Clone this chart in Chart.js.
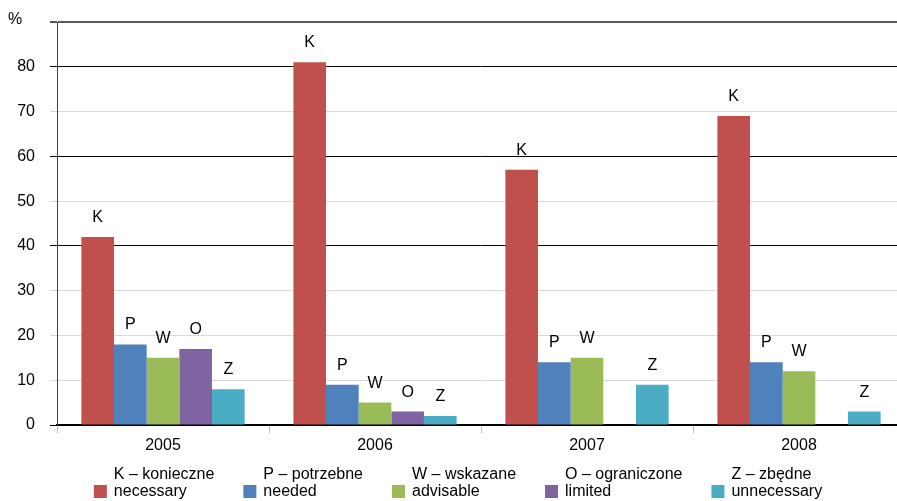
<!DOCTYPE html>
<html>
<head>
<meta charset="utf-8">
<script src="https://cdn.jsdelivr.net/npm/chart.js@4/dist/chart.umd.min.js"></script>
<style>
  html, body { margin: 0; padding: 0; background: #fff; overflow: hidden; }
  #wrap { position: relative; width: 910px; height: 501px; }
</style>
</head>
<body>
<div id="wrap"><canvas id="c"></canvas></div>
<script>
// Survey years (categories)
const years = ['2005', '2006', '2007', '2008'];

// Share of answers per category, %
const kValues = [42, 81, 57, 69];
const pValues = [18, 9, 14, 14];
const wValues = [15, 5, 15, 12];
const oValues = [17, 3, null, null];
const zValues = [8, 2, 9, 3];

// Series letters and two-line legend names (Polish / English)
const seriesLetters = ['K', 'P', 'W', 'O', 'Z'];
const seriesNamesPl = ['K – konieczne', 'P – potrzebne', 'W – wskazane', 'O – ograniczone', 'Z – zbędne'];
const seriesNamesEn = ['necessary', 'needed', 'advisable', 'limited', 'unnecessary'];
const seriesColors = ['#C0504D', '#4F81BD', '#9BBB59', '#8064A2', '#4BACC6'];

// Value axis
const yMax = 90;
const yStep = 10;
const yUnit = '%';

const FONT = '"Liberation Sans", Arial, sans-serif';
const FONT_SIZE = 16;
const seriesValues = [kValues, pValues, wValues, oValues, zValues];

const datasets = seriesValues.map((vals, i) => ({
  label: seriesNamesPl[i],
  letter: seriesLetters[i],
  subLabel: seriesNamesEn[i],
  data: vals,
  backgroundColor: seriesColors[i],
  borderWidth: 0,
  categoryPercentage: 0.77,
  barPercentage: 1.0
}));

// Letters above bars, unit label, and the two-line legend
const decorations = {
  id: 'decorations',
  afterDatasetsDraw(chart) {
    const ctx = chart.ctx;
    ctx.save();
    ctx.font = FONT_SIZE + 'px ' + FONT;
    ctx.fillStyle = '#000';
    ctx.textAlign = 'center';
    ctx.textBaseline = 'alphabetic';
    chart.data.datasets.forEach((ds, di) => {
      const meta = chart.getDatasetMeta(di);
      meta.data.forEach((bar, idx) => {
        const v = ds.data[idx];
        if (v === null || v === undefined) return;
        ctx.fillText(ds.letter, bar.x, bar.y - 15);
      });
    });
    ctx.restore();
  },
  afterDraw(chart) {
    const ctx = chart.ctx;
    ctx.save();
    ctx.font = FONT_SIZE + 'px ' + FONT;
    ctx.fillStyle = '#000';
    ctx.textBaseline = 'middle';
    ctx.textAlign = 'center';
    ctx.fillText(yUnit, 15, 20);

    // legend
    const box = 13, gap = 7, spacing = 29;
    const items = chart.data.datasets.map(ds => {
      const w = Math.max(ctx.measureText(ds.label).width, ctx.measureText(ds.subLabel).width);
      return { ds, w: box + gap + w };
    });
    const total = items.reduce((s, it) => s + it.w, 0) + spacing * (items.length - 1);
    let x = 458 - total / 2;
    ctx.textAlign = 'left';
    ctx.textBaseline = 'alphabetic';
    items.forEach(it => {
      ctx.fillStyle = it.ds.backgroundColor;
      ctx.fillRect(x, 485, box, box);
      ctx.fillStyle = '#000';
      ctx.fillText(it.ds.label, x + box + gap, 479);
      ctx.fillText(it.ds.subLabel, x + box + gap, 496);
      x += it.w + spacing;
    });
    ctx.restore();
  }
};

new Chart(document.getElementById('c'), {
  type: 'bar',
  data: { labels: years, datasets },
  options: {
    responsive: true,
    maintainAspectRatio: false,
    animation: false,
    layout: { padding: { top: 22, right: 5, bottom: 0, left: 0 } },
    plugins: { legend: { display: false }, tooltip: { enabled: false } },
    scales: {
      x: {
        grid: {
          offset: true,
          drawOnChartArea: false,
          drawTicks: true,
          tickLength: 8,
          color: '#bfbfbf'
        },
        border: { color: '#000', width: 1.5 },
        ticks: { color: '#000', padding: 3, font: { family: FONT, size: FONT_SIZE } },
        afterFit(scale) {
          scale.height = 76;
          scale.paddingLeft = 0;
          scale.paddingRight = 0;
        }
      },
      y: {
        min: 0,
        max: yMax,
        ticks: {
          stepSize: yStep,
          color: '#000',
          padding: 15,
          font: { family: FONT, size: FONT_SIZE },
          callback: v => (v === yMax ? '' : v)
        },
        grid: {
          tickLength: 7,
          color: c => {
            const v = c.tick ? c.tick.value : 0;
            if (v === yMax) return '#595959';
            if (v === 0 || v === 40 || v === 60 || v === 80) return '#000';
            return '#d9d9d9';
          },
          lineWidth: c => (c.tick && c.tick.value === yMax ? 2 : 1)
        },
        border: { color: '#404040', width: 1 },
        afterFit(scale) {
          scale.width = 57;
          scale.paddingTop = 0;
          scale.paddingBottom = 0;
        }
      }
    }
  },
  plugins: [decorations]
});
</script>
</body>
</html>
